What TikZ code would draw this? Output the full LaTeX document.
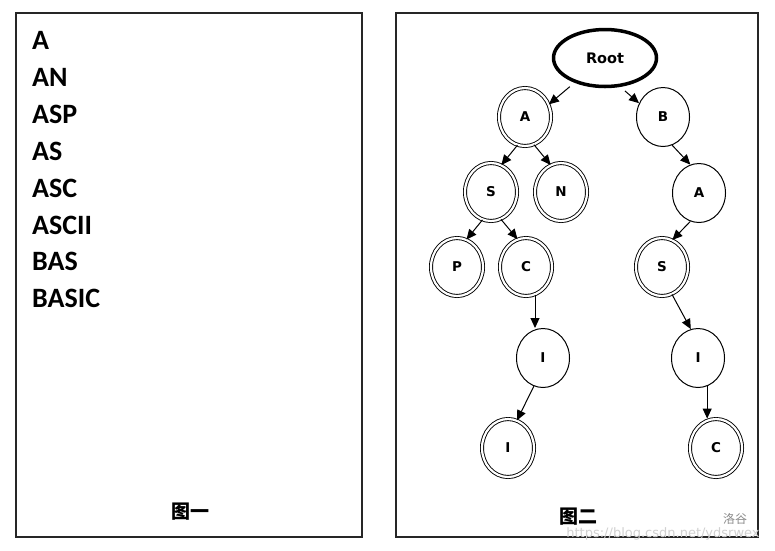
\documentclass[tikz,border=0pt]{standalone}
\usepackage{fontspec}
\setmainfont{Carlito}
\newfontfamily\nodefont{DejaVu Sans}
\newfontfamily\urlfont{DejaVu Sans}
\newfontfamily\cjkfont{Noto Sans CJK SC}
\usetikzlibrary{arrows.meta,shapes.geometric}
\begin{document}
\begin{tikzpicture}[x=1pt,y=-1pt,
 panel/.style={draw=black!85,line width=1.5pt},
 word/.style={anchor=base west,inner sep=0pt,font=\bfseries\fontsize{28}{28}\selectfont},
 plain/.style={ellipse,draw,line width=1pt,minimum width=53pt,minimum height=59pt,inner sep=0pt,font=\nodefont\bfseries\fontsize{13.5}{13.5}\selectfont},
 term/.style={ellipse,draw,double,double distance=2.2pt,line width=0.9pt,minimum width=52pt,minimum height=58pt,inner sep=0pt,font=\nodefont\bfseries\fontsize{13.5}{13.5}\selectfont},
 rootnode/.style={ellipse,draw,line width=3.5pt,minimum width=103pt,minimum height=57pt,inner sep=0pt,font=\nodefont\bfseries\fontsize{14.5}{14.5}\selectfont},
 arr/.style={-{Triangle[length=10pt,width=9pt]},line width=1pt},
 captext/.style={font=\cjkfont\bfseries\fontsize{19}{19}\selectfont,inner sep=0pt}
]
\useasboundingbox (0,0) rectangle (775,550);
\fill[white] (0,0) rectangle (775,550);
% panels
\draw[panel] (16,13) rectangle (362,537);
\draw[panel] (396,13) rectangle (758,537);
% word list
\node[word] (w1) at (32,49) {A};
\node[word] (w2) at (32,86) {AN};
\node[word] (w3) at (32,123) {ASP};
\node[word] (w4) at (32,160) {AS};
\node[word] (w5) at (32,197) {ASC};
\node[word] (w6) at (32,234) {ASCII};
\node[word] (w7) at (32,270) {BAS};
\node[word] (w8) at (32,307) {BASIC};
\node[captext] (c1) at (190,512) {图一};
% tree
\node[rootnode] (root) at (605,58) {Root};
\node[term] (a) at (525,117) {A};
\node[plain] (b) at (663,117) {B};
\node[term] (s) at (491,192) {S};
\node[term] (n) at (561,192) {N};
\node[plain] (a2) at (699,193) {A};
\node[term] (p) at (457,267) {P};
\node[term] (c) at (526,267) {C};
\node[term] (s2) at (662,267) {S};
\node[plain] (i1) at (543,358) {I};
\node[plain] (i2) at (698,358) {I};
\node[term] (i3) at (508,448) {I};
\node[term] (c2) at (716,448) {C};
% edges
\draw[arr,shorten <=6pt] (root.-141) -- (a.28);
\draw[arr,shorten <=6pt] (root.-62) -- (b.150);
\draw[arr] (a.-105) -- (s.69);
\draw[arr] (a.-72) -- (n.111);
\draw[arr] (s.-107) -- (p.71);
\draw[arr] (s.-70) -- (c.107);
\draw[arr] (b.-72) -- (a2.107);
\draw[arr] (a2.-107) -- (s2.69);
\draw[arr] (s2.-70) -- (i2.104);
\draw[arr] (i1.-108) -- (i3.72);
\draw[arr] (c.-72) -- (c.-72 |- i1.north);
\draw[arr] (i2.-72) -- (i2.-72 |- c2.north);
\node[captext] (c2cap) at (578,517) {图二};
% watermark
\node[font=\cjkfont\fontsize{12}{12}\selectfont,text=black!45,inner sep=0pt] (wm1) at (735,519) {洛谷};
\node[font=\urlfont\fontsize{13}{13}\selectfont,text=black!18,inner sep=0pt] (wm2) at (663,534) {https://blog.csdn.net/ydsrwex};
\end{tikzpicture}
\end{document}
